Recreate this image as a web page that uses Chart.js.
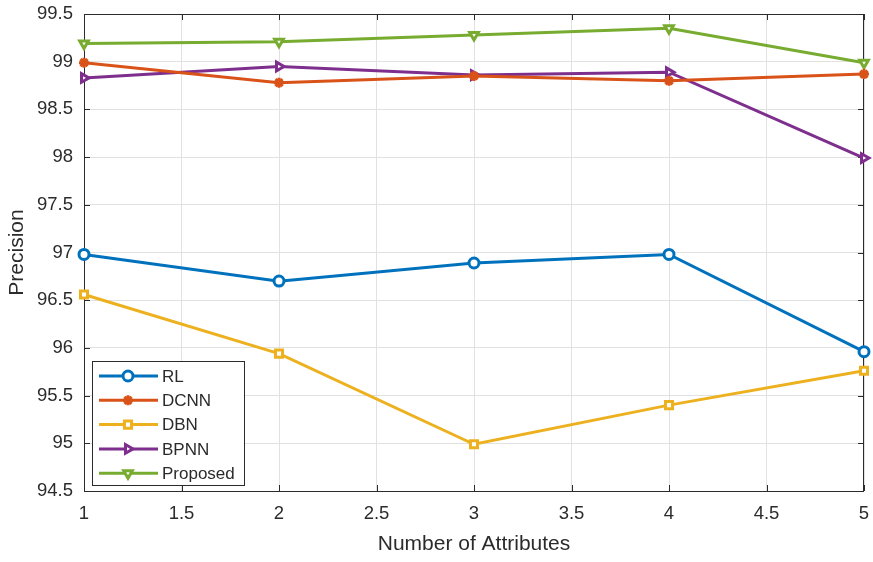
<!DOCTYPE html>
<html>
<head>
<meta charset="utf-8">
<script src="https://cdn.jsdelivr.net/npm/chart.js@4"></script>
<style>
  html, body { margin: 0; padding: 0; background: #fff; }
  #wrap { width: 873px; height: 562px; }
</style>
</head>
<body>
<div id="wrap"><canvas id="precChart" width="873" height="562"></canvas></div>
<script>
// values
const attributes = [1, 2, 3, 4, 5];
const rlVals       = [96.98, 96.70, 96.89, 96.98, 95.96];
const dcnnVals     = [98.99, 98.78, 98.85, 98.80, 98.87];
const dbnVals      = [96.56, 95.94, 94.99, 95.40, 95.76];
const bpnnVals     = [98.83, 98.95, 98.86, 98.89, 97.99];
const proposedVals = [99.19, 99.21, 99.28, 99.35, 98.99];
const seriesNames  = ['RL', 'DCNN', 'DBN', 'BPNN', 'Proposed'];

const FONT = '"Liberation Sans", Arial, Helvetica, sans-serif';
const INK = '#2b2b2b';

function toXY(vals) {
  return vals.map(function (v, i) { return { x: attributes[i], y: v }; });
}

function makeSet(name, vals, color, style, rot) {
  return {
    label: name,
    data: toXY(vals),
    borderColor: color,
    backgroundColor: '#ffffff',
    borderWidth: 3,
    clip: false,
    pointStyle: style,
    pointRotation: rot || 0,
    pointRadius: 5,
    pointBorderWidth: 3,
    pointBackgroundColor: '#ffffff',
    pointBorderColor: color,
    tension: 0,
    fill: false
  };
}

// box, inward ticks (MATLAB look) and legend inside the plot
const matlabFrame = {
  id: 'matlabFrame',
  beforeDatasetsDraw: function (chart) {
    const ctx = chart.ctx;
    const a = chart.chartArea;
    const xs = chart.scales.x, ys = chart.scales.y;
    ctx.save();
    ctx.strokeStyle = INK;
    ctx.lineWidth = 1;
    ctx.strokeRect(a.left + 0.5, a.top + 0.5, a.right - a.left - 1, a.bottom - a.top);
    ctx.beginPath();
    xs.ticks.forEach(function (t) {
      const px = Math.round(xs.getPixelForValue(t.value)) + 0.5;
      ctx.moveTo(px, a.bottom); ctx.lineTo(px, a.bottom - 6);
      ctx.moveTo(px, a.top); ctx.lineTo(px, a.top + 6);
    });
    ys.ticks.forEach(function (t) {
      const py = Math.round(ys.getPixelForValue(t.value)) + 0.5;
      ctx.moveTo(a.left, py); ctx.lineTo(a.left + 6, py);
      ctx.moveTo(a.right, py); ctx.lineTo(a.right - 6, py);
    });
    ctx.stroke();
    ctx.restore();
  },
  afterDraw: function (chart) {
    const ctx = chart.ctx;
    ctx.save();
    const bx = 92, by = 361, bw = 152, bh = 124;
    ctx.fillStyle = '#ffffff';
    ctx.fillRect(bx, by, bw, bh);
    ctx.strokeStyle = INK;
    ctx.lineWidth = 1;
    ctx.strokeRect(bx + 0.5, by + 0.5, bw, bh);
    ctx.font = '17px ' + FONT;
    ctx.textBaseline = 'middle';
    chart.data.datasets.forEach(function (ds, i) {
      const y = 376 + i * 24.3;
      ctx.strokeStyle = ds.borderColor;
      ctx.lineWidth = 3;
      ctx.beginPath();
      ctx.moveTo(99, y); ctx.lineTo(158, y);
      ctx.stroke();
      ctx.fillStyle = ds.pointBackgroundColor;
      ctx.strokeStyle = ds.pointBorderColor;
      ctx.lineWidth = ds.pointBorderWidth;
      Chart.helpers.drawPoint(ctx, {
        pointStyle: ds.pointStyle, rotation: ds.pointRotation,
        radius: ds.pointRadius, borderWidth: ds.pointBorderWidth
      }, 128, y);
      ctx.fillStyle = INK;
      ctx.fillText(seriesNames[i], 162, y + 1);
    });
    ctx.restore();
  }
};

const ctx = document.getElementById('precChart').getContext('2d');
new Chart(ctx, {
  type: 'line',
  data: {
    datasets: [
      makeSet(seriesNames[0], rlVals, '#0072BD', 'circle'),
      makeSet(seriesNames[1], dcnnVals, '#D95319', 'star'),
      makeSet(seriesNames[2], dbnVals, '#EDB120', 'rect'),
      makeSet(seriesNames[3], bpnnVals, '#7E2F8E', 'triangle', 90),
      makeSet(seriesNames[4], proposedVals, '#77AC30', 'triangle', 180)
    ]
  },
  options: {
    responsive: false,
    animation: false,
    layout: { padding: { top: 14, right: 9, left: 0, bottom: 0 } },
    plugins: {
      legend: { display: false },
      tooltip: { enabled: false }
    },
    scales: {
      x: {
        type: 'linear',
        min: 1, max: 5,
        afterFit: function (s) {
          s.height = 71;
          s.paddingLeft = 0; s.paddingRight = 0;
        },
        ticks: {
          stepSize: 0.5,
          color: INK,
          padding: 12,
          font: { family: FONT, size: 18.5 },
          callback: function (v) { return String(v); }
        },
        grid: { color: '#e1e1e1', drawTicks: false },
        border: { display: false },
        title: {
          display: true,
          text: 'Number of Attributes',
          color: INK,
          padding: { top: 4, bottom: 5 },
          font: { family: FONT, size: 21 }
        }
      },
      y: {
        type: 'linear',
        min: 94.5, max: 99.5,
        afterFit: function (s) {
          s.width = 84;
          s.paddingTop = 0; s.paddingBottom = 0;
        },
        ticks: {
          stepSize: 0.5,
          color: INK,
          padding: 11,
          font: { family: FONT, size: 18.5 },
          callback: function (v) { return String(v); }
        },
        grid: { color: '#e1e1e1', drawTicks: false },
        border: { display: false },
        title: {
          display: true,
          text: 'Precision',
          color: INK,
          padding: { top: 5, bottom: 2 },
          font: { family: FONT, size: 21 }
        }
      }
    }
  },
  plugins: [matlabFrame]
});
</script>
</body>
</html>
